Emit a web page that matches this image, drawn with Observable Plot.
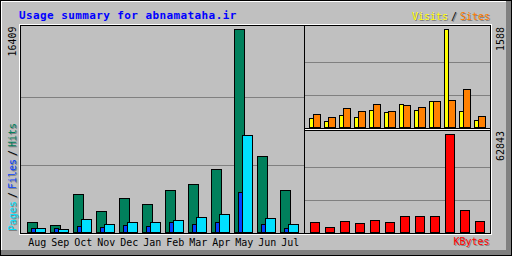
<!DOCTYPE html>
<html><head><meta charset="utf-8">
<script src="https://cdn.jsdelivr.net/npm/d3@7"></script>
<script src="https://cdn.jsdelivr.net/npm/@observablehq/plot@0.6"></script>
<style>
html,body{margin:0;padding:0;background:#fff}
#chart{position:relative;width:512px;height:256px;overflow:hidden}
#chart svg{position:absolute;left:0;top:0;shape-rendering:crispEdges;max-width:none}
#chart text{font-family:"DejaVu Sans Mono",monospace;font-size:10px}
</style></head><body><div id="chart"></div>
<script>
// ---- data ----
const title = "Usage summary for abnamataha.ir";
const months = ["Aug","Sep","Oct","Nov","Dec","Jan","Feb","Mar","Apr","May","Jun","Jul"];
const hits   = [784, 541, 3047, 1697, 2724, 2239, 3371, 3855, 5068, 16409, 6119, 3371];
const files  = [299, 299, 461, 380, 541, 461, 784, 622, 784, 3209, 622, 299];
const pages  = [299, 218, 1027, 622, 784, 784, 946, 1188, 1431, 7816, 1107, 622];
const visits = [146, 97, 194, 162, 275, 243, 373, 275, 421, 1588, 259, 113];
const sites  = [211, 162, 308, 259, 373, 259, 356, 324, 421, 437, 616, 178];
const kbytes = [6413, 3206, 7054, 5771, 7695, 6413, 10260, 10260, 10260, 62843, 14108, 7054];

const tbl = months.map((m, i) => ({month: m, hits: hits[i], files: files[i], pages: pages[i],
  visits: visits[i], sites: sites[i], kbytes: kbytes[i]}));

const C = {bg:"#C0C0C0", dk:"#808080", hits:"#00805C", files:"#0040FF", pages:"#00E0FF",
  visits:"#FFFF00", sites:"#FF8000", kbytes:"#FF0000", title:"#0000FF"};

const chart = document.getElementById("chart");
const NS = "http://www.w3.org/2000/svg";

// ---- background / frame decoration ----
const deco = document.createElementNS(NS, "svg");
deco.setAttribute("width", 512); deco.setAttribute("height", 256);
deco.innerHTML = `
<rect x="0" y="0" width="512" height="256" fill="${C.bg}"/>
<rect x="506" y="1" width="5" height="254" fill="${C.dk}"/>
<rect x="1" y="250" width="510" height="5" fill="${C.dk}"/>
<path d="M1.5 250V1.5H506" fill="none" stroke="white"/>
<rect x="0.5" y="0.5" width="511" height="255" fill="none" stroke="black"/>
<g fill="none">
  <path d="M19.5 234.5V24.5H491.5V234.5H19.5M304 129.5H491" stroke="white"/>
  <path d="M20.5 233.5V25.5H490.5V233.5Z M304.5 25V234 M305 128.5H491 M305 130.5H491" stroke="black"/>
</g>`;
chart.appendChild(deco);

const baseStyle = {background:"transparent", color:"black", fontFamily:'"DejaVu Sans Mono", monospace', fontSize:"10px", overflow:"visible"};

// ---- main panel: hits / files / pages ----
const step = 280 / months.length;
const maxHits = d3.max(hits);
chart.appendChild(Plot.plot({
  width:512, height:256, marginLeft:21, marginRight:208, marginTop:25, marginBottom:23.5,
  style: baseStyle,
  x:{type:"band", domain:months, range:[21, 301], padding:0, label:null},
  y:{domain:[0, maxHits], range:[232.5, 29.5], axis:null},
  marks:[
    Plot.ruleY([maxHits/3, 2*maxHits/3], {stroke:C.dk}),
    Plot.barY(tbl, {x:"month", y:"hits", fill:C.hits, stroke:"black", insetLeft:4.5, insetRight:step-14.5}),
    Plot.barY(tbl, {x:"month", y:"files", fill:C.files, stroke:"black", insetLeft:8.5, insetRight:step-12.5}),
    Plot.barY(tbl, {x:"month", y:"pages", fill:C.pages, stroke:"black", insetLeft:12.5, insetRight:step-22.5}),
    Plot.axisX({tickSize:0, tickPadding:6, dx:2.3, fill:"black", label:null})
  ]
}));

// ---- top right: visits / sites ----
const maxVisits = d3.max(visits.concat(sites));
chart.appendChild(Plot.plot({
  width:512, height:256, marginLeft:305, marginRight:22, marginTop:25, marginBottom:128,
  style: baseStyle,
  x:{type:"band", domain:months, range:[306, 486], padding:0, axis:null},
  y:{domain:[0, maxVisits], range:[127.5, 29.5], axis:null},
  marks:[
    Plot.ruleY([maxVisits/3, 2*maxVisits/3], {stroke:C.dk}),
    Plot.barY(tbl, {x:"month", y:"visits", fill:C.visits, stroke:"black", insetLeft:3.5, insetRight:7.5}),
    Plot.barY(tbl, {x:"month", y:"sites", fill:C.sites, stroke:"black", insetLeft:7.5, insetRight:0.5})
  ]
}));

// ---- bottom right: kbytes ----
const maxK = d3.max(kbytes);
chart.appendChild(Plot.plot({
  width:512, height:256, marginLeft:305, marginRight:22, marginTop:131, marginBottom:23,
  style: baseStyle,
  x:{type:"band", domain:months, range:[306, 486], padding:0, axis:null},
  y:{domain:[0, maxK], range:[232.5, 134.5], axis:null},
  marks:[
    Plot.ruleY([maxK/3, 2*maxK/3], {stroke:C.dk}),
    Plot.barY(tbl, {x:"month", y:"kbytes", fill:C.kbytes, stroke:"black", insetLeft:4.5, insetRight:1.5})
  ]
}));

// ---- text overlay ----
const txt = document.createElementNS(NS, "svg");
txt.setAttribute("width", 512); txt.setAttribute("height", 256);
function label(s, x, y, fill, shadow, rot) {
  const mk = (dx, dy, f) => {
    const t = document.createElementNS(NS, "text");
    t.textContent = s;
    t.setAttribute("fill", f);
    if (rot) t.setAttribute("transform", `translate(${x+dx},${y+dy}) rotate(-90)`);
    else { t.setAttribute("x", x+dx); t.setAttribute("y", y+dy); }
    txt.appendChild(t);
    return t;
  };
  if (shadow) mk(1, 1, C.dk);
  return mk(0, 0, fill);
}
const tt = label(title, 19, 19, C.title, false, false);
tt.setAttribute("style", "font-size:11px;font-weight:bold;letter-spacing:0.4px");

label("Visits", 412, 19.7, C.visits, true, false);
label("/", 451, 19.7, "black", true, false);
label("Sites", 460, 19.7, C.sites, true, false);
label("KBytes", 453.5, 245, C.kbytes, true, false);

label("Pages", 16, 231, C.pages, true, true);
label("/", 16, 198, "black", true, true);
label("Files", 16, 189, C.files, true, true);
label("/", 16, 156, "black", true, true);
label("Hits", 16, 147, C.hits, true, true);

label(String(maxHits), 16, 56.5, "black", false, true);
label(String(d3.max(visits)), 504, 51, "black", false, true);
label(String(maxK), 504, 161, "black", false, true);
chart.appendChild(txt);
</script></body></html>
